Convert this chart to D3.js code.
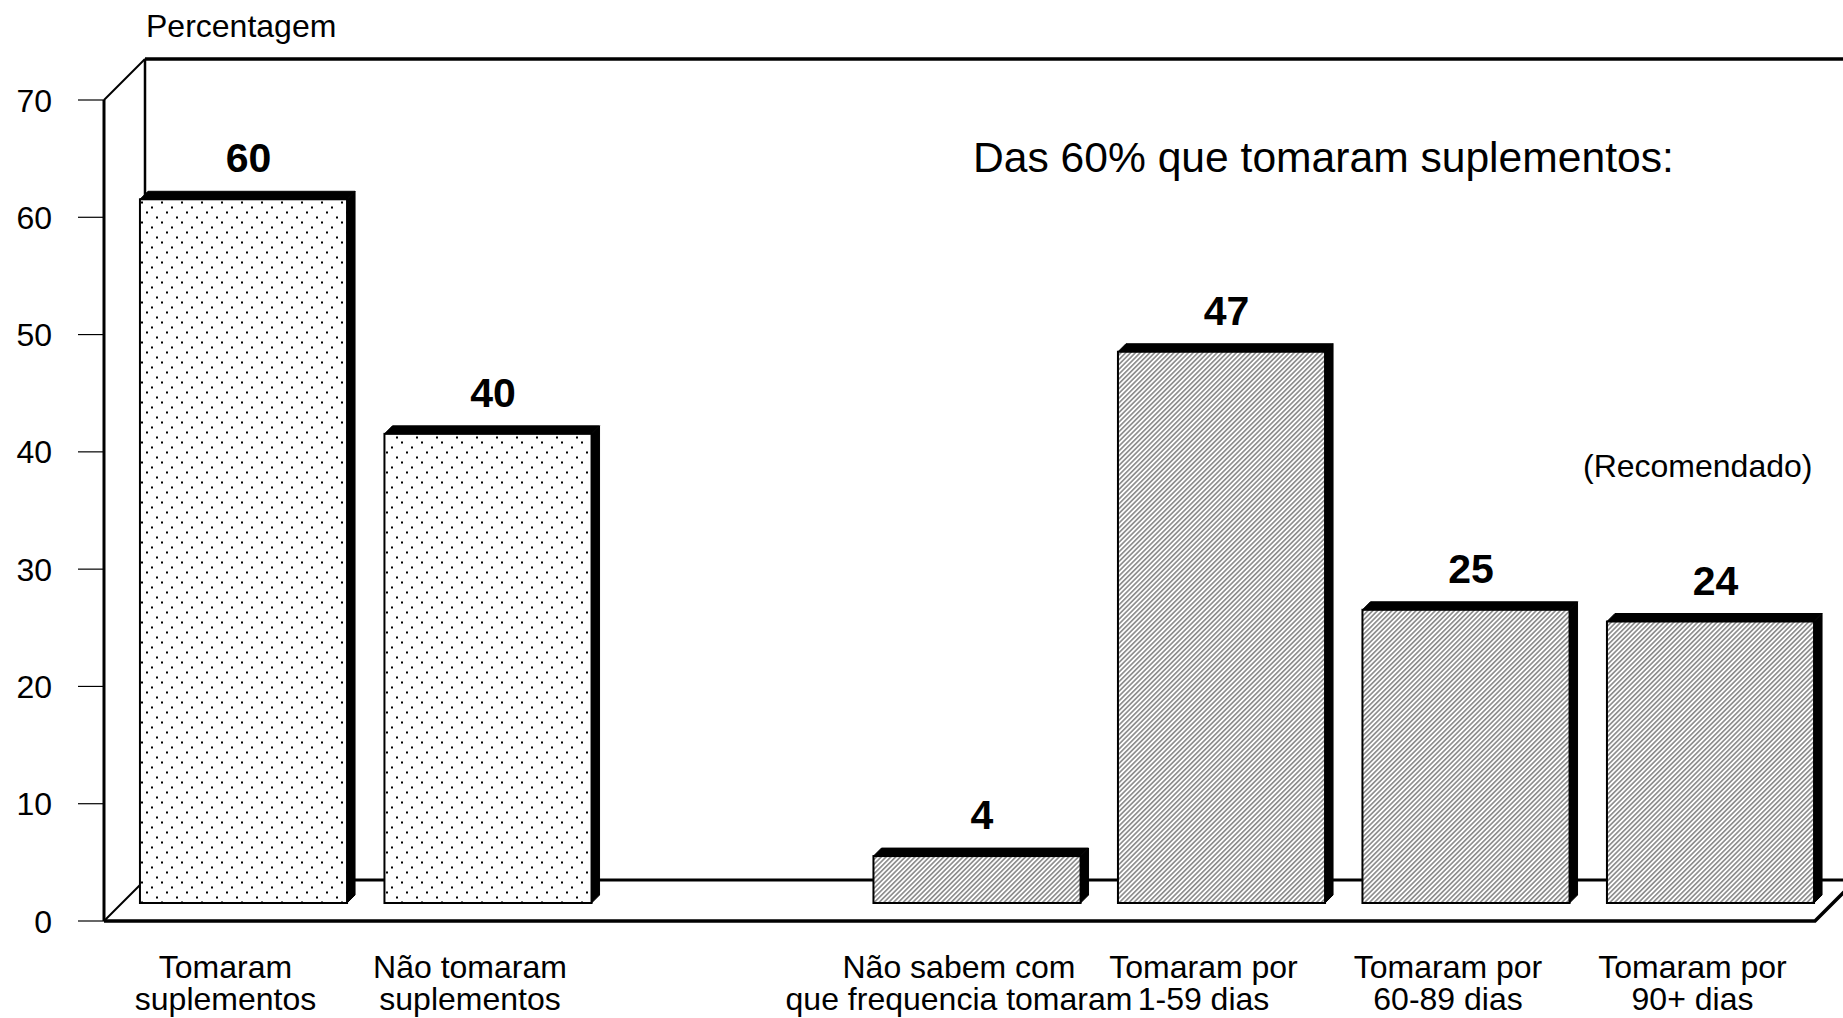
<!DOCTYPE html>
<html>
<head>
<meta charset="utf-8">
<script src="https://cdn.jsdelivr.net/npm/d3@7"></script>
<style>
  html, body { margin: 0; padding: 0; background: #fff; }
  svg { display: block; }
  text { font-family: "Liberation Sans", Arial, Helvetica, sans-serif; fill: #000; }
</style>
</head>
<body>
<script>
// ---------- data ----------
const categories = [
  "Tomaram suplementos",
  "Não tomaram suplementos",
  "Não sabem com que frequencia tomaram",
  "Tomaram por 1-59 dias",
  "Tomaram por 60-89 dias",
  "Tomaram por 90+ dias"
];
const labelLines = [
  ["Tomaram", "suplementos"],
  ["Não tomaram", "suplementos"],
  ["Não sabem com", "que frequencia tomaram"],
  ["Tomaram por", "1-59 dias"],
  ["Tomaram por", "60-89 dias"],
  ["Tomaram por", "90+ dias"]
];
const values = [60, 40, 4, 47, 25, 24];
const fillKinds = ["dots", "dots", "hatch", "hatch", "hatch", "hatch"];
const yTicks = [0, 10, 20, 30, 40, 50, 60, 70];
const gapKey = "__gap__";
const yAxisTitle = "Percentagem";
const annotation = "Das 60% que tomaram suplementos:";
const note = "(Recomendado)";

// ---------- layout ----------
const W = 1843, H = 1018;
const wallDepth = 41;   // depth of the 3D frame
const barInset = 18;    // bars sit this far back from the front plane
const barDepth = 8;     // depth of each bar

const slotDomain = [categories[0], categories[1], gapKey, ...categories.slice(2)];

const x = d3.scaleBand()
  .domain(slotDomain)
  .range([121.25, 1832.75])
  .paddingInner(0.153)
  .paddingOuter(0.0765);

const yFront = d3.scaleLinear().domain([0, 70]).range([921, 100]);
const yBack = v => yFront(v) - wallDepth;
const yBar = v => yFront(v) - barInset;

const xFront0 = 104, xFront1 = 1815;
const xBack0 = xFront0 + wallDepth, xBack1 = xFront1 + wallDepth;

const svg = d3.select("body").append("svg")
  .attr("width", W).attr("height", H);

// ---------- patterns ----------
const defs = svg.append("defs");
const dots = defs.append("pattern")
  .attr("id", "dots").attr("patternUnits", "userSpaceOnUse")
  .attr("width", 20).attr("height", 20);
dots.append("rect").attr("width", 20).attr("height", 20).attr("fill", "#fff");
[[1, 1.5], [11, 6.5], [6, 11.5], [16, 16.5]].forEach(([px, py]) => {
  dots.append("rect").attr("x", px).attr("y", py).attr("width", 2).attr("height", 2).attr("fill", "#000");
});

const hatch = defs.append("pattern")
  .attr("id", "hatch").attr("patternUnits", "userSpaceOnUse")
  .attr("width", 3.4).attr("height", 10)
  .attr("patternTransform", "rotate(45)");
hatch.append("rect").attr("width", 3.4).attr("height", 10).attr("fill", "#fff");
hatch.append("line").attr("x1", 1.7).attr("x2", 1.7).attr("y1", 0).attr("y2", 10)
  .attr("stroke", "#000").attr("stroke-width", 0.8);

// ---------- frame (walls & floor) ----------
const frame = svg.append("g").attr("fill", "none").attr("stroke", "#000");
// back wall
frame.append("path").attr("stroke-width", 3.5)
  .attr("d", `M${xBack0},${yBack(70)}H${xBack1 + 20}`);
frame.append("path").attr("stroke-width", 2.5)
  .attr("d", `M${xBack0},${yBack(70)}V${yBack(0)}`);
frame.append("path").attr("stroke-width", 3)
  .attr("d", `M${xBack0},${yBack(0)}H${xBack1 + 20}`);
// left wall
frame.append("path").attr("stroke-width", 2)
  .attr("d", `M${xFront0},${yFront(70)}L${xBack0},${yBack(70)}`);
frame.append("path").attr("stroke-width", 2)
  .attr("d", `M${xFront0},${yFront(0)}L${xBack0},${yBack(0)}`);
frame.append("path").attr("stroke-width", 3)
  .attr("d", `M${xFront0},${yFront(70)}V${yFront(0)}`);
// floor front
frame.append("path").attr("stroke-width", 3.5).attr("stroke-linejoin", "miter")
  .attr("d", `M${xFront0},${yFront(0)}H${xFront1}L${xBack1},${yBack(0)}`);

// ---------- y axis ticks ----------
const yAxis = svg.append("g");
yAxis.selectAll("line").data(yTicks).join("line")
  .attr("x1", 78).attr("x2", xFront0)
  .attr("y1", d => yFront(d)).attr("y2", d => yFront(d))
  .attr("stroke", "#000").attr("stroke-width", 1.2);
yAxis.selectAll("text").data(yTicks).join("text")
  .attr("x", 52).attr("y", d => yFront(d))
  .attr("dy", "0.36em")
  .attr("text-anchor", "end")
  .style("font-size", "32px")
  .text(d => d);

svg.append("text")
  .attr("x", 146).attr("y", 37)
  .style("font-size", "32px")
  .text(yAxisTitle);

// ---------- bars ----------
const bw = x.bandwidth();
const bars = svg.append("g").selectAll("g")
  .data(categories.map((c, i) => ({ c, v: values[i], kind: fillKinds[i], lines: labelLines[i] })))
  .join("g");

bars.each(function (d) {
  const g = d3.select(this);
  const x0 = x(d.c), x1 = x0 + bw;
  const yt = yBar(d.v), yb = yBar(0);
  const k = barDepth;
  // side
  g.append("polygon")
    .attr("points", [[x1, yt], [x1 + k, yt - k], [x1 + k, yb - k], [x1, yb]].map(p => p.join(",")).join(" "))
    .attr("fill", "#000").attr("stroke", "#000").attr("stroke-width", 1);
  // top
  g.append("polygon")
    .attr("points", [[x0, yt], [x0 + k, yt - k], [x1 + k, yt - k], [x1, yt]].map(p => p.join(",")).join(" "))
    .attr("fill", "#000").attr("stroke", "#000").attr("stroke-width", 1);
  // face
  g.append("rect")
    .attr("x", x0).attr("y", yt).attr("width", bw).attr("height", yb - yt)
    .attr("fill", `url(#${d.kind})`)
    .attr("stroke", "#000").attr("stroke-width", 2);
  // value label
  g.append("text")
    .attr("x", x0 + bw / 2 + 5).attr("y", yt - 27)
    .attr("text-anchor", "middle")
    .style("font-size", "41px").style("font-weight", "bold")
    .text(d.v);
  // category label
  const t = g.append("text")
    .attr("text-anchor", "middle")
    .style("font-size", "32px");
  d.lines.forEach((ln, i) => {
    t.append("tspan")
      .attr("x", x0 + bw / 2 - barInset)
      .attr("y", 978 + i * 32)
      .text(ln);
  });
});

// ---------- annotations ----------
svg.append("text")
  .attr("x", 973).attr("y", 172)
  .style("font-size", "42.6px")
  .text(annotation);

svg.append("text")
  .attr("x", 1583).attr("y", 477)
  .style("font-size", "32px")
  .text(note);
</script>
</body>
</html>
